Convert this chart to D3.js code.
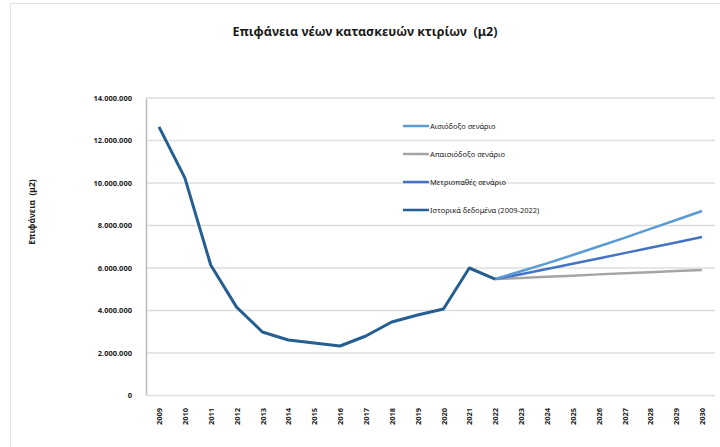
<!DOCTYPE html>
<head>
	<meta charset="utf-8">
	<script src="https://d3js.org/d3.v7.min.js"></script>
	<style>
		body {
			margin: 0;
			background: #fff;
		}

		text { white-space: pre; }

		.title {
			font-family: "Noto Sans", "DejaVu Sans", sans-serif;
			font-size: 12.5px;
			font-weight: bold;
			fill: #1a1a1a;
		}

		.tick text {
			font-family: "Noto Sans", "DejaVu Sans", sans-serif;
			font-size: 7.5px;
			font-weight: bold;
			fill: #222;
		}

		.legend text, .ylabel {
			font-family: "Noto Sans", "DejaVu Sans", sans-serif;
			font-size: 7.5px;
			fill: #1a1a1a;
		}

		.ylabel { font-weight: bold; font-size: 8.5px; }
	</style>
</head>
<body>
	<script>
		// data
		var years = ["2009", "2010", "2011", "2012", "2013", "2014", "2015", "2016", "2017", "2018", "2019",
			"2020", "2021", "2022", "2023", "2024", "2025", "2026", "2027", "2028", "2029", "2030"];
		var historical = [12640000, 10240000, 6140000, 4160000, 2990000, 2610000, 2470000, 2330000, 2800000,
			3460000, 3790000, 4070000, 6000000, 5480000];
		var projYears = ["2022", "2023", "2024", "2025", "2026", "2027", "2028", "2029", "2030"];
		var optimistic = [5480000, 5850000, 6220000, 6610000, 7010000, 7420000, 7840000, 8260000, 8680000];
		var pessimistic = [5480000, 5530000, 5590000, 5640000, 5700000, 5750000, 5800000, 5860000, 5910000];
		var moderate = [5480000, 5710000, 5950000, 6200000, 6450000, 6700000, 6950000, 7200000, 7460000];
		var yTicks = [0, 2000000, 4000000, 6000000, 8000000, 10000000, 12000000, 14000000];
		var legendLabels = ["Αισιόδοξο σενάριο", "Απαισιόδοξο σενάριο", "Μετριοπαθές σενάριο", "Ιστορικά δεδομένα (2009-2022)"];
		var colors = ["#5b9bd5", "#a5a5a5", "#4472c4", "#255e91"];

		var width = 720;
		var height = 447;

		var svg = d3.select("body")
			.append("svg")
			.attr("width", width)
			.attr("height", height);

		// outer frame of the slide chart
		svg.append("rect")
			.attr("x", 10.5).attr("y", 3.5)
			.attr("width", 720).attr("height", 460)
			.attr("fill", "none")
			.attr("stroke", "#e4e4e4");

		// scales
		var xScale = d3.scalePoint()
			.domain(years)
			.range([159, 702]);

		var yScale = d3.scaleLinear()
			.domain([0, 14000000])
			.range([395.5, 98]);

		var fmt = function(d) { return d3.format(",")(d).replace(/,/g, "."); };

		// gridlines
		svg.append("g")
			.selectAll("line")
			.data(yTicks.slice(1))
			.enter()
			.append("line")
			.attr("x1", 146).attr("x2", 715)
			.attr("y1", function(d) { return yScale(d) })
			.attr("y2", function(d) { return yScale(d) })
			.attr("stroke", "#dedede")
			.attr("stroke-width", 1.5);

		// axes
		var axisY = svg.append("g")
			.attr("transform", "translate(" + [146, 0] + ")")
			.call(d3.axisLeft(yScale).tickValues(yTicks).tickFormat(fmt).tickSize(0).tickPadding(14));
		axisY.select(".domain").attr("stroke", "#bdbdbd").attr("stroke-width", 1.5);

		var axisX = svg.append("g")
			.attr("transform", "translate(" + [0, 395.5] + ")")
			.call(d3.axisBottom(xScale).tickSize(0));
		axisX.select(".domain").attr("d", "M146,0H715").attr("stroke", "#dedede").attr("stroke-width", 1.5);
		axisX.selectAll(".tick text")
			.attr("transform", "rotate(-90)")
			.attr("text-anchor", "middle")
			.attr("x", -21)
			.attr("y", 0)
			.attr("dy", "0.35em");

		// lines
		var line = d3.line()
			.x(function(d) { return xScale(d.year) })
			.y(function(d) { return yScale(d.value) });

		var toPts = function(ys, vals) {
			return vals.map(function(v, i) { return { year: ys[i], value: v }; });
		};

		var series = [
			{ vals: toPts(projYears, pessimistic), color: colors[1], w: 2.5 },
			{ vals: toPts(projYears, moderate), color: colors[2], w: 2.5 },
			{ vals: toPts(projYears, optimistic), color: colors[0], w: 2.5 },
			{ vals: toPts(years, historical), color: colors[3], w: 3 }
		];

		svg.append("g")
			.selectAll("path")
			.data(series)
			.enter()
			.append("path")
			.attr("d", function(d) { return line(d.vals) })
			.attr("fill", "none")
			.attr("stroke", function(d) { return d.color })
			.attr("stroke-width", function(d) { return d.w })
			.attr("stroke-linejoin", "round");

		// legend
		var legend = svg.append("g")
			.attr("class", "legend")
			.selectAll("g")
			.data(legendLabels)
			.enter()
			.append("g")
			.attr("transform", function(d, i) { return "translate(" + [403, 126 + i * 28] + ")" });
		legend.append("line")
			.attr("x1", 0).attr("x2", 26)
			.attr("stroke", function(d, i) { return colors[i] })
			.attr("stroke-width", 2.5);
		legend.append("text")
			.text(function(d) { return d })
			.attr("x", 27)
			.attr("dy", "0.35em");

		// titles
		svg.append("text")
			.text("Επιφάνεια νέων κατασκευών κτιρίων  (μ2)")
			.attr("class", "title")
			.attr("x", 365)
			.attr("y", 36)
			.attr("text-anchor", "middle");
		svg.append("text")
			.text("Επιφάνεια  (μ2)")
			.attr("class", "ylabel")
			.attr("transform", "translate(" + [35, 212] + ") rotate(-90)")
			.attr("text-anchor", "middle");
	</script>
</body>
</html>
